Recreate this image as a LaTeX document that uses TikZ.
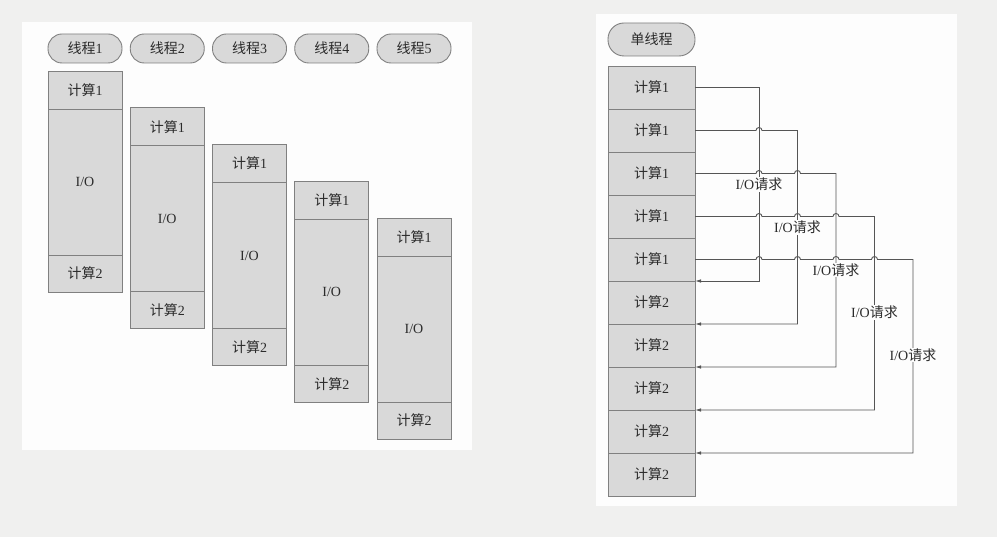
\documentclass[tikz,border=0pt]{standalone}
\usepackage{fontspec}
\setmainfont{Liberation Serif}
\newfontfamily\zhfont{Noto Sans CJK SC}
\newcommand{\zh}[1]{{\zhfont #1}}
\usetikzlibrary{arrows.meta,positioning}
\definecolor{bggray}{HTML}{F0F0EF}
\definecolor{panel}{HTML}{FDFDFD}
\definecolor{boxgray}{HTML}{D9D9D9}
\definecolor{edgegray}{HTML}{808080}
\definecolor{wire}{HTML}{555555}
\definecolor{ink}{HTML}{2B2B2B}

\begin{document}
\begin{tikzpicture}[x=1pt,y=-1pt,
    every node/.style={font=\fontsize{14}{16}\selectfont,text=ink},
    box/.style={draw=edgegray,fill=boxgray,line width=0.9pt,minimum width=74pt,
                inner sep=0pt,outer sep=0pt},
    pill/.style={box,rounded corners=14pt,minimum height=29pt},
    wide/.style={minimum width=87pt},
    conn/.style={draw=wire,line width=0.9pt},
    arr/.style={-{Latex[length=6pt,width=3.5pt]}},
    req/.style={fill=panel,inner sep=1pt},
    node distance=0pt,
  ]
  \fill[bggray] (0,0) rectangle (997,537);
  \fill[panel] (22,22) rectangle (472,450);
  \fill[panel] (596,14) rectangle (957,506);

  % left: five threads
  \node[pill] (t1) at (85,48.5) {\zh{线程}1};
  \node[pill] (t2) at (167.25,48.5) {\zh{线程}2};
  \node[pill] (t3) at (249.5,48.5) {\zh{线程}3};
  \node[pill] (t4) at (331.75,48.5) {\zh{线程}4};
  \node[pill] (t5) at (414,48.5) {\zh{线程}5};

  \node[box,minimum height=38pt,anchor=north] (a1) at (85,71) {\zh{计算}1};
  \node[box,minimum height=146pt,below=of a1] (io1) {I/O};
  \node[box,minimum height=37pt,below=of io1] (b1) {\zh{计算}2};

  \node[box,minimum height=38pt,anchor=north] (a2) at (167.25,107.75) {\zh{计算}1};
  \node[box,minimum height=146pt,below=of a2] (io2) {I/O};
  \node[box,minimum height=37pt,below=of io2] (b2) {\zh{计算}2};

  \node[box,minimum height=38pt,anchor=north] (a3) at (249.5,144.5) {\zh{计算}1};
  \node[box,minimum height=146pt,below=of a3] (io3) {I/O};
  \node[box,minimum height=37pt,below=of io3] (b3) {\zh{计算}2};

  \node[box,minimum height=38pt,anchor=north] (a4) at (331.75,181.25) {\zh{计算}1};
  \node[box,minimum height=146pt,below=of a4] (io4) {I/O};
  \node[box,minimum height=37pt,below=of io4] (b4) {\zh{计算}2};

  \node[box,minimum height=38pt,anchor=north] (a5) at (414,218) {\zh{计算}1};
  \node[box,minimum height=146pt,below=of a5] (io5) {I/O};
  \node[box,minimum height=37pt,below=of io5] (b5) {\zh{计算}2};

  % right: single thread
  \node[pill,wide,minimum height=33pt,rounded corners=16pt] (s) at (651.5,39.5) {\zh{单线程}};
  \node[box,wide,minimum height=43pt,anchor=north] (r1) at (651.5,66) {\zh{计算}1};
  \node[box,wide,minimum height=43pt,below=of r1] (r2) {\zh{计算}1};
  \node[box,wide,minimum height=43pt,below=of r2] (r3) {\zh{计算}1};
  \node[box,wide,minimum height=43pt,below=of r3] (r4) {\zh{计算}1};
  \node[box,wide,minimum height=43pt,below=of r4] (r5) {\zh{计算}1};
  \node[box,wide,minimum height=43pt,below=of r5] (r6) {\zh{计算}2};
  \node[box,wide,minimum height=43pt,below=of r6] (r7) {\zh{计算}2};
  \node[box,wide,minimum height=43pt,below=of r7] (r8) {\zh{计算}2};
  \node[box,wide,minimum height=43pt,below=of r8] (r9) {\zh{计算}2};
  \node[box,wide,minimum height=43pt,below=of r9] (r10) {\zh{计算}2};

  % I/O requests, hopping over earlier wires
  \draw[conn,arr] (r1.east) -- ++(64,0) |- (r6.north east);
  \draw[conn,arr] (r2.east) -- ++(61,0) arc[start angle=180,end angle=0,radius=3pt]
    -- ++(35.5,0) |- (r7.north east);
  \draw[conn,arr] (r3.east) -- ++(61,0) arc[start angle=180,end angle=0,radius=3pt]
    -- ++(32.5,0) arc[start angle=180,end angle=0,radius=3pt]
    -- ++(35.5,0) |- (r8.north east);
  \draw[conn,arr] (r4.east) -- ++(61,0) arc[start angle=180,end angle=0,radius=3pt]
    -- ++(32.5,0) arc[start angle=180,end angle=0,radius=3pt]
    -- ++(32.5,0) arc[start angle=180,end angle=0,radius=3pt]
    -- ++(35.5,0) |- (r9.north east);
  \draw[conn,arr] (r5.east) -- ++(61,0) arc[start angle=180,end angle=0,radius=3pt]
    -- ++(32.5,0) arc[start angle=180,end angle=0,radius=3pt]
    -- ++(32.5,0) arc[start angle=180,end angle=0,radius=3pt]
    -- ++(32.5,0) arc[start angle=180,end angle=0,radius=3pt]
    -- ++(35.5,0) |- (r10.north east);

  \node[req] (q1) at (759,184.5) {I/O\zh{请求}};
  \node[req] (q2) at (797.5,227.5) {I/O\zh{请求}};
  \node[req] (q3) at (836,270) {I/O\zh{请求}};
  \node[req] (q4) at (874.5,312.5) {I/O\zh{请求}};
  \node[req] (q5) at (913,355) {I/O\zh{请求}};
\end{tikzpicture}
\end{document}
